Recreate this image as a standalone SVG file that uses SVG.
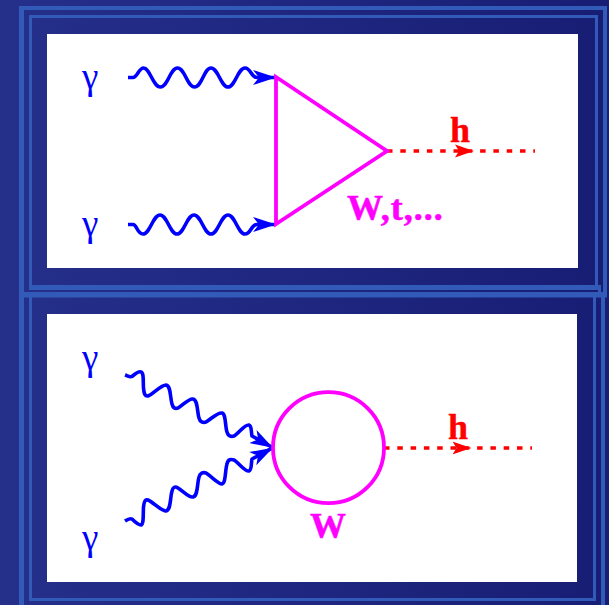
<svg xmlns="http://www.w3.org/2000/svg" width="609" height="605" viewBox="0 0 609 605">
<defs>
<linearGradient id="bg" x1="0" y1="0" x2="1" y2="0"><stop offset="0" stop-color="#25308b"/><stop offset="1" stop-color="#181d74"/></linearGradient>
<marker id="ab" markerUnits="userSpaceOnUse" markerWidth="24" markerHeight="18" refX="23" refY="9" orient="auto"><path d="M0 1.500 L23 9 L0 16.500 L6 9 Z" fill="#0000ff"/></marker>
<marker id="ar" markerUnits="userSpaceOnUse" markerWidth="20" markerHeight="16" refX="19" refY="8" orient="auto"><path d="M0 1.500 L19 8 L0 14.500 L4 8 Z" fill="#ff0000"/></marker>
</defs>
<style>
.band{fill:#325ab8}
.panel{fill:#ffffff}
.wave{fill:none;stroke:#0000ff;stroke-width:3.6;stroke-linejoin:round}
.loop{fill:none;stroke:#ff00ff;stroke-width:3.8;stroke-linejoin:miter}
.higgs{fill:none;stroke:#ff0000;stroke-width:3.6;stroke-dasharray:5.500 7.800}
.head{fill:none;stroke:none}
.g{font-family:"Liberation Serif",serif;font-size:37px;fill:#0000ff}
.h{font-family:"Liberation Serif",serif;font-size:36px;font-weight:bold;fill:#ff0000;stroke:#ff0000;stroke-width:.4}
.m{font-family:"Liberation Serif",serif;font-size:36px;font-weight:bold;fill:#ff00ff;stroke:#ff00ff;stroke-width:.5}
</style>
<rect id="background" width="609" height="605" fill="url(#bg)"/>
<g id="frames">
<rect class="band" x="19" y="6" width="588" height="4"/>
<rect class="band" x="19" y="6" width="5" height="599"/>
<rect class="band" x="603" y="6" width="4" height="287"/>
<rect class="band" x="29" y="15" width="569" height="3"/>
<rect class="band" x="29" y="15" width="3" height="271"/>
<rect class="band" x="595" y="15" width="3" height="271"/>
<rect class="band" x="29" y="285" width="572" height="5"/>
<rect class="band" x="598" y="285" width="3" height="7"/>
<rect class="band" x="24" y="292" width="583" height="5.500"/>
<rect class="band" x="29" y="297" width="3" height="304"/>
<rect class="band" x="593" y="297" width="3" height="304"/>
<rect class="band" x="601" y="297" width="4" height="308"/>
<rect class="band" x="29" y="598" width="567" height="3"/>
</g>
<g id="panel-top"><rect class="panel" x="47" y="34" width="531" height="234"/></g>
<g id="panel-bottom"><rect class="panel" x="47" y="314" width="530" height="268"/></g>
<g id="connectors">
<path class="wave" marker-end="url(#ab)" d="M128 77.500 H133 C137 77.500 139 68 143.500 68 C150 68 153 87 160.500 87 C168 87 170 68 177.500 68 C185 68 187 87 194.500 87 C202 87 204 68 211 68 C218 68 221 87 228 87 C235 87 238 68 245 68 C251 68 251 77.500 257 77.500 H276"/>
<path class="wave" marker-end="url(#ab)" d="M128 224.500 H133 C137 224.500 137 234 143 234 C150 234 153 215 160 215 C167 215 170 234 177 234 C184 234 187 215 194 215 C201 215 204 234 211 234 C218 234 221 215 228 215 C235 215 238 234 245 234 C251 234 251 224.500 257 224.500 H276"/>
<path class="wave" marker-end="url(#ab)" d="M125 375 C128 376 130 377.500 132 376.500 C135 374 139 371 141 372 C144 373 143 381 143.500 388 C144 394 145 396.500 148 396 C153 394 161 385 166 385 C171 386 170 397 172 404 C173 408 175 409 178 408 C183 405 189 398 193 399 C198 400 197 412 199 418 C200 422 203 423 206 422 C211 419 218 412 222 413 C226 414 225 426 227 432 C228 436 231 437 234 436 C239 433 245 424 249 425 C252 426 251 432 252 436 L273 447.700"/>
<path class="wave" marker-end="url(#ab)" d="M125 521 C128 519 130 518 132 519 C135 522 139 525 141 525 C144 524 143 514 143.500 507 C144 502 145 499 148 500 C153 502 161 511 166 511 C171 510 170 498 172 491 C173 487 175 486 178 488 C183 491 189 498 193 497 C198 496 197 484 199 477 C200 473 203 472 206 473 C211 476 218 484 222 484 C226 483 225 470 227 464 C228 459 231 459 234 460 C239 463 245 472 249 471 C252 470 251 463 252 459 L273 447.700"/>
<path class="higgs" d="M387 151 H535"/>
<path class="higgs" d="M384 448 H532"/>
<path class="head" marker-end="url(#ar)" d="M450 151 H474"/>
<path class="head" marker-end="url(#ar)" d="M447 448 H471.500"/>
</g>
<g id="loop-triangle"><path class="loop" d="M276 77 V224 L387 151 Z"/></g>
<g id="loop-circle"><circle class="loop" cx="328.500" cy="447.700" r="55.500"/></g>
<g id="labels-top">
<text class="g" x="82" y="89">γ</text>
<text class="g" x="82" y="236">γ</text>
<text class="h" x="450" y="142">h</text>
<text class="m" x="347" y="220" letter-spacing="1">W,t,...</text>
</g>
<g id="labels-bottom">
<text class="g" x="82" y="370">γ</text>
<text class="g" x="82" y="550">γ</text>
<text class="h" x="448" y="439">h</text>
<text class="m" x="310" y="538">W</text>
</g>
</svg>
